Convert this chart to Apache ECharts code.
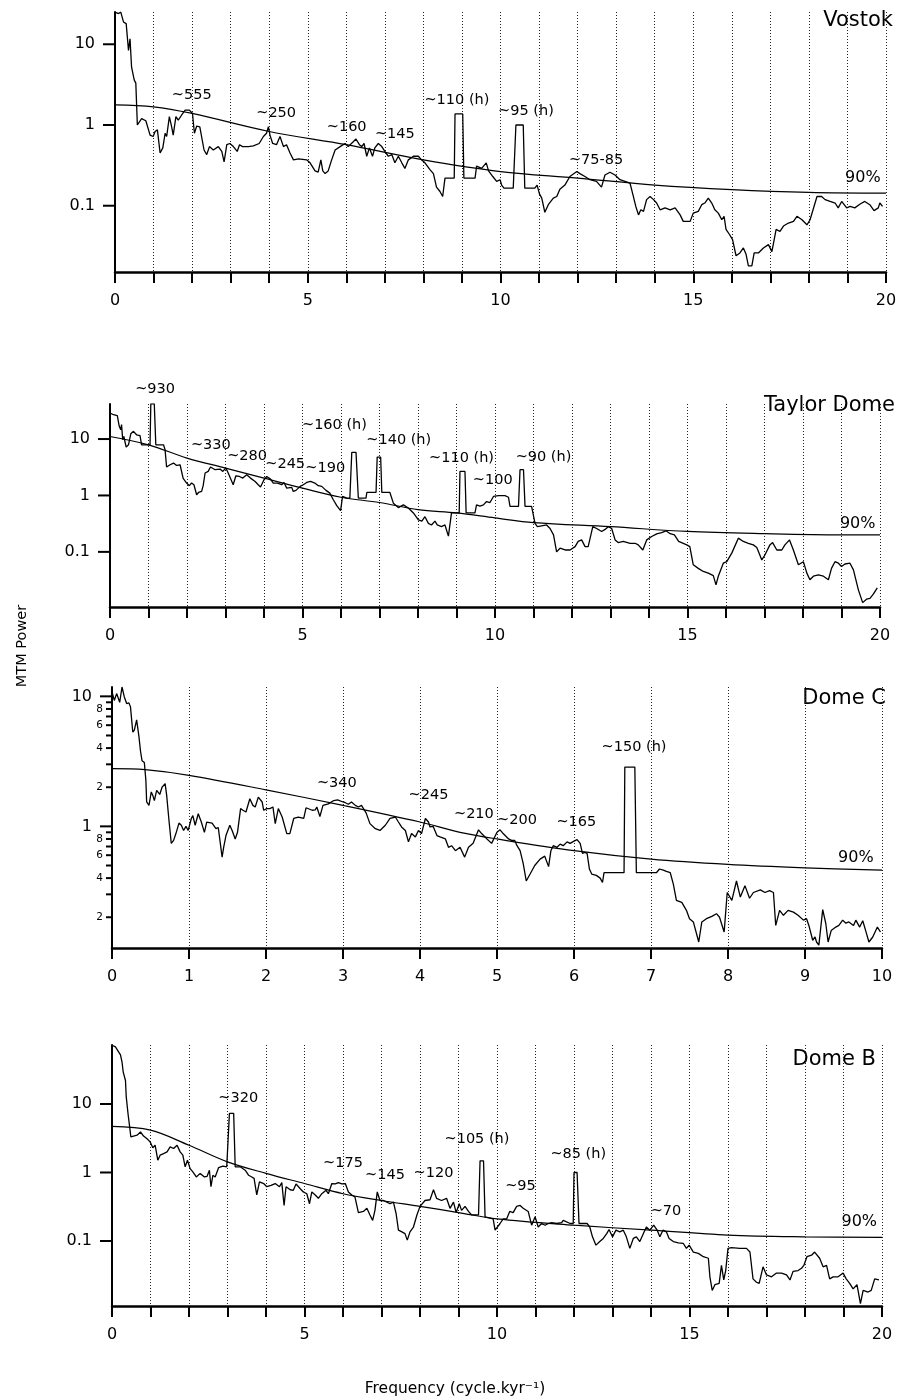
<!DOCTYPE html>
<html><head><meta charset="utf-8">
<script src="https://cdn.jsdelivr.net/npm/echarts@6/dist/echarts.min.js"></script>
<style>html,body{margin:0;padding:0;background:#fff}#c{width:911px;height:1400px}</style>
</head><body><div id="c"></div>
<script>
// ---------------- DATA ----------------
// Vostok
const vostokF = [0,0.09,0.15,0.22,0.29,0.35,0.39,0.43,0.50,0.54,0.58,0.63,0.69,0.80,0.91,0.99,1.04,1.10,1.17,1.24,1.30,1.34,1.41,1.47,1.51,1.58,1.64,1.73,1.82,1.93,2.01,2.06,2.12,2.20,2.25,2.31,2.38,2.45,2.55,2.68,2.77,2.83,2.90,2.98,3.07,3.17,3.23,3.31,3.46,3.59,3.74,3.85,3.93,3.98,4.02,4.09,4.19,4.28,4.37,4.45,4.54,4.63,4.76,4.97,5.06,5.19,5.27,5.34,5.39,5.45,5.53,5.62,5.71,5.84,5.97,6.05,6.18,6.25,6.34,6.40,6.46,6.53,6.60,6.68,6.74,6.83,6.92,7.00,7.09,7.18,7.26,7.35,7.44,7.52,7.61,7.74,7.87,7.95,8.04,8.17,8.26,8.34,8.43,8.50,8.56,8.80,8.82,9.02,9.05,9.34,9.38,9.51,9.63,9.69,9.80,9.90,9.99,10.03,10.09,10.33,10.40,10.59,10.63,10.89,10.95,11.01,11.07,11.15,11.24,11.37,11.46,11.54,11.67,11.80,11.98,12.06,12.19,12.32,12.49,12.62,12.71,12.84,12.97,13.10,13.36,13.43,13.51,13.58,13.64,13.71,13.79,13.88,13.97,14.05,14.14,14.27,14.40,14.53,14.66,14.74,14.92,15.0,15.13,15.22,15.30,15.39,15.48,15.56,15.65,15.74,15.80,15.85,15.94,16.02,16.11,16.21,16.30,16.37,16.43,16.52,16.58,16.69,16.82,16.95,17.04,17.15,17.25,17.34,17.47,17.60,17.69,17.82,17.95,18.03,18.21,18.33,18.42,18.55,18.68,18.76,18.85,18.98,19.07,19.19,19.33,19.45,19.58,19.69,19.80,19.84,19.91];
const vostokP = [25,24,25,18.9,18,8.4,11.7,5.2,3.6,3.3,1.0,0.95,1.2,1.13,0.75,0.72,0.83,0.87,0.45,0.52,0.79,0.72,1.27,0.95,0.75,1.27,1.15,1.33,1.53,1.53,1.39,0.79,0.97,0.95,0.93,0.49,0.43,0.54,0.49,0.54,0.47,0.35,0.57,0.59,0.54,0.47,0.57,0.54,0.54,0.55,0.59,0.72,0.79,0.95,0.75,0.59,0.57,0.72,0.54,0.57,0.45,0.37,0.38,0.37,0.34,0.27,0.26,0.37,0.27,0.25,0.27,0.37,0.49,0.54,0.59,0.54,0.62,0.67,0.57,0.54,0.59,0.41,0.52,0.41,0.52,0.59,0.54,0.47,0.41,0.43,0.34,0.41,0.34,0.29,0.37,0.41,0.41,0.37,0.34,0.28,0.25,0.17,0.15,0.13,0.22,0.22,1.37,1.37,0.22,0.22,0.31,0.29,0.34,0.27,0.23,0.20,0.21,0.18,0.165,0.165,1.0,1.0,0.165,0.165,0.18,0.14,0.124,0.083,0.103,0.124,0.13,0.16,0.18,0.23,0.265,0.25,0.23,0.21,0.2,0.17,0.24,0.26,0.24,0.21,0.19,0.14,0.098,0.077,0.089,0.085,0.119,0.13,0.119,0.108,0.089,0.094,0.089,0.094,0.077,0.064,0.064,0.081,0.085,0.103,0.108,0.124,0.108,0.089,0.081,0.067,0.074,0.051,0.044,0.038,0.024,0.026,0.030,0.025,0.018,0.018,0.026,0.026,0.030,0.033,0.027,0.051,0.048,0.056,0.061,0.064,0.074,0.067,0.058,0.067,0.13,0.13,0.119,0.113,0.108,0.094,0.113,0.094,0.098,0.094,0.105,0.113,0.103,0.087,0.094,0.108,0.098];
const vostokSigF = [0,1,2,4,6,8,10,12,14,16,18,20];
const vostokSigP = [1.77,1.68,1.39,0.83,0.57,0.37,0.265,0.22,0.18,0.158,0.146,0.143];
const vostokAnnL = ['~555','~250','~160','~145','~110 (h)','~95 (h)','~75-85','90%'];
const vostokAnnF = [1.99,4.18,6.01,7.26,8.87,10.66,12.48,19.40];
const vostokAnnP = [2.35,1.41,0.94,0.77,2.04,1.50,0.37,0.224];

// Taylor Dome
const taylorF = [0,0.09,0.19,0.24,0.28,0.30,0.33,0.36,0.42,0.48,0.54,0.61,0.69,0.78,0.82,1.04,1.06,1.15,1.19,1.39,1.43,1.47,1.56,1.65,1.73,1.82,1.90,1.99,2.06,2.12,2.18,2.25,2.30,2.38,2.42,2.47,2.55,2.61,2.73,2.86,2.93,3.01,3.07,3.12,3.20,3.27,3.36,3.45,3.55,3.65,3.77,3.85,3.91,4.0,4.07,4.17,4.24,4.35,4.46,4.52,4.59,4.72,4.76,4.83,4.94,5.02,5.11,5.21,5.32,5.41,5.50,5.61,5.71,5.80,5.89,5.99,6.04,6.15,6.23,6.28,6.39,6.45,6.65,6.67,6.91,6.94,7.03,7.06,7.27,7.36,7.49,7.62,7.75,7.88,8.01,8.10,8.18,8.27,8.35,8.44,8.50,8.61,8.70,8.79,8.87,9.07,9.09,9.22,9.25,9.48,9.52,9.61,9.70,9.78,9.87,9.96,10.09,10.26,10.35,10.39,10.61,10.65,10.74,10.78,10.95,11.04,11.10,11.21,11.34,11.43,11.52,11.60,11.69,11.82,11.95,12.08,12.16,12.25,12.34,12.42,12.54,12.64,12.77,12.86,12.94,13.03,13.12,13.20,13.33,13.51,13.64,13.72,13.84,13.94,14.07,14.20,14.33,14.44,14.55,14.66,14.77,14.98,15.06,15.15,15.28,15.41,15.54,15.67,15.74,15.80,15.93,16.02,16.15,16.32,16.45,16.58,16.71,16.80,16.93,17.01,17.14,17.21,17.32,17.45,17.53,17.65,17.75,17.88,18.01,18.10,18.18,18.27,18.40,18.53,18.66,18.74,18.83,18.92,19.00,19.09,19.22,19.31,19.44,19.55,19.65,19.74,19.83,19.93];
const taylorP = [29,27,26,16.8,14.6,18,9.7,11.1,7.2,7.9,12.4,13.7,11.9,11.5,7.9,7.9,42,42,7.9,7.9,6.5,3.2,3.5,3.75,3.4,3.5,2.0,1.66,1.49,1.66,1.55,1.03,1.13,1.18,1.49,2.5,2.67,3.2,2.86,2.94,2.67,3.06,2.5,2.67,1.55,2.23,2.17,2.03,2.33,2.03,1.77,1.55,1.41,1.9,2.17,1.95,1.66,1.66,1.55,1.7,1.35,1.39,1.18,1.23,1.45,1.55,1.7,1.77,1.66,1.49,1.45,1.23,1.1,0.84,0.66,0.54,0.96,0.9,0.9,5.8,5.8,0.9,0.9,1.13,1.13,4.8,4.8,1.13,1.13,0.73,0.61,0.68,0.6,0.49,0.37,0.35,0.42,0.32,0.30,0.35,0.30,0.28,0.30,0.19,0.49,0.49,2.67,2.67,0.49,0.49,0.68,0.65,0.68,0.78,0.75,0.96,0.99,0.99,0.93,0.64,0.64,2.86,2.86,0.64,0.64,0.32,0.28,0.29,0.30,0.26,0.20,0.10,0.116,0.108,0.108,0.124,0.153,0.163,0.124,0.124,0.28,0.26,0.23,0.25,0.28,0.26,0.163,0.146,0.153,0.142,0.142,0.133,0.108,0.163,0.187,0.209,0.22,0.236,0.21,0.2,0.153,0.133,0.124,0.059,0.051,0.045,0.042,0.038,0.026,0.037,0.063,0.067,0.095,0.175,0.153,0.142,0.133,0.12,0.072,0.088,0.133,0.146,0.108,0.108,0.133,0.163,0.108,0.059,0.067,0.042,0.032,0.037,0.039,0.037,0.032,0.051,0.067,0.063,0.055,0.061,0.063,0.048,0.021,0.0126,0.0145,0.015,0.018,0.023];
const taylorSigF = [0,1,2,3,4,5,6,7,8,9,10,11,13,15,17,19,20];
const taylorSigP = [11.1,7.9,4.6,3.06,2.03,1.35,0.93,0.75,0.56,0.49,0.40,0.33,0.28,0.23,0.21,0.20,0.20];
const taylorAnnL = ['~930','~330','~280','~245','~190','~160 (h)','~140 (h)','~110 (h)','~100','~90 (h)','90%'];
const taylorAnnF = [1.17,2.62,3.56,4.55,5.59,5.83,7.50,9.13,9.94,11.26,19.42];
const taylorAnnP = [77,7.9,4.9,3.65,3.06,17.5,9.7,4.6,1.85,4.7,0.32];

// Dome C
const domeCF = [0,0.03,0.06,0.10,0.13,0.16,0.19,0.22,0.24,0.27,0.29,0.32,0.35,0.37,0.39,0.42,0.44,0.45,0.48,0.51,0.53,0.55,0.58,0.62,0.65,0.69,0.71,0.74,0.77,0.80,0.83,0.87,0.90,0.93,0.96,0.99,1.03,1.05,1.08,1.12,1.16,1.20,1.23,1.30,1.35,1.38,1.43,1.45,1.48,1.53,1.56,1.60,1.63,1.67,1.70,1.74,1.79,1.83,1.86,1.90,1.95,1.97,2.01,2.05,2.09,2.12,2.16,2.21,2.27,2.31,2.36,2.42,2.49,2.52,2.60,2.64,2.66,2.70,2.74,2.81,2.88,2.93,3.00,3.03,3.07,3.11,3.16,3.20,3.24,3.30,3.35,3.42,3.48,3.55,3.61,3.68,3.72,3.76,3.81,3.85,3.89,3.94,3.98,4.02,4.07,4.11,4.13,4.17,4.22,4.26,4.33,4.37,4.41,4.46,4.48,4.52,4.58,4.63,4.69,4.76,4.80,4.87,4.93,5.0,5.04,5.08,5.15,5.19,5.23,5.26,5.30,5.34,5.38,5.43,5.49,5.56,5.62,5.67,5.70,5.73,5.78,5.82,5.86,5.91,5.95,6.0,6.04,6.08,6.11,6.14,6.17,6.20,6.23,6.29,6.34,6.37,6.39,6.65,6.66,6.79,6.81,7.07,7.11,7.16,7.20,7.25,7.29,7.33,7.40,7.46,7.50,7.55,7.62,7.66,7.72,7.79,7.85,7.89,7.95,7.99,8.05,8.11,8.16,8.22,8.28,8.33,8.42,8.48,8.54,8.59,8.62,8.67,8.72,8.78,8.85,8.91,8.98,9.02,9.05,9.10,9.13,9.15,9.18,9.23,9.27,9.30,9.34,9.40,9.44,9.49,9.53,9.57,9.63,9.66,9.71,9.75,9.80,9.83,9.88,9.94,9.98];
const domeCP = [10.8,9.3,10.5,9.0,11.8,9.9,8.8,8.9,8.3,5.3,5.5,6.6,4.9,3.8,3.2,3.1,2.26,1.54,1.45,1.84,1.73,1.58,1.89,1.76,2.0,2.13,1.73,1.11,0.74,0.78,0.88,1.06,1.02,0.93,1.0,0.93,1.15,1.21,1.02,1.25,1.08,0.9,1.08,1.06,0.96,0.98,0.58,0.69,0.85,1.02,0.93,0.80,0.9,1.37,1.33,1.29,1.63,1.45,1.41,1.68,1.54,1.33,1.37,1.37,1.41,1.05,1.37,1.18,0.88,0.88,1.15,1.18,1.15,1.39,1.33,1.34,1.41,1.19,1.45,1.49,1.58,1.6,1.54,1.52,1.48,1.54,1.45,1.41,1.45,1.27,1.05,0.96,0.93,1.02,1.15,1.18,1.08,0.99,0.93,0.76,0.88,0.83,0.93,0.88,1.15,1.08,0.99,1.0,0.85,0.83,0.80,0.69,0.71,0.65,0.63,0.69,0.58,0.69,0.74,0.94,0.88,0.80,0.74,0.9,0.94,0.88,0.80,0.78,0.78,0.71,0.65,0.52,0.38,0.43,0.50,0.56,0.59,0.49,0.65,0.71,0.69,0.73,0.71,0.76,0.74,0.77,0.79,0.74,0.62,0.63,0.62,0.47,0.43,0.42,0.40,0.37,0.44,0.44,2.86,2.86,0.44,0.44,0.47,0.46,0.45,0.44,0.36,0.27,0.26,0.226,0.195,0.184,0.129,0.184,0.195,0.203,0.213,0.2,0.154,0.31,0.27,0.38,0.286,0.35,0.28,0.31,0.325,0.31,0.32,0.31,0.173,0.226,0.207,0.226,0.219,0.207,0.19,0.195,0.173,0.133,0.141,0.129,0.122,0.229,0.179,0.129,0.158,0.168,0.173,0.19,0.18,0.184,0.173,0.19,0.168,0.188,0.149,0.129,0.141,0.168,0.154];
const domeCSigF = [0,0.43,1,2,3,4,4.52,5,6,7,8,9,10];
const domeCSigP = [2.78,2.73,2.47,1.91,1.45,1.08,0.90,0.80,0.65,0.56,0.51,0.48,0.46];
const domeCAnnL = ['~340','~245','~210','~200','~165','~150 (h)','90%'];
const domeCAnnF = [2.92,4.11,4.70,5.26,6.03,6.78,9.66];
const domeCAnnP = [2.13,1.73,1.24,1.11,1.08,4.08,0.57];

// Dome B
const domeBF = [0,0.09,0.15,0.22,0.26,0.29,0.32,0.35,0.37,0.42,0.46,0.49,0.56,0.65,0.74,0.82,0.91,0.99,1.06,1.12,1.19,1.25,1.34,1.43,1.51,1.60,1.69,1.77,1.84,1.90,1.96,2.03,2.10,2.19,2.29,2.40,2.47,2.53,2.57,2.62,2.68,2.77,2.88,2.98,3.03,3.05,3.16,3.20,3.33,3.46,3.55,3.63,3.69,3.76,3.83,3.94,4.02,4.13,4.24,4.35,4.41,4.47,4.52,4.63,4.71,4.78,4.89,4.97,5.06,5.13,5.19,5.28,5.36,5.45,5.56,5.62,5.71,5.80,5.88,5.97,6.06,6.14,6.23,6.31,6.40,6.53,6.62,6.70,6.77,6.83,6.89,6.96,7.05,7.14,7.22,7.31,7.38,7.44,7.53,7.61,7.67,7.74,7.83,7.92,8.0,8.13,8.26,8.35,8.43,8.56,8.69,8.78,8.87,8.94,9.02,9.08,9.17,9.26,9.34,9.52,9.56,9.65,9.69,9.90,9.95,9.99,10.08,10.16,10.25,10.33,10.42,10.51,10.60,10.68,10.81,10.90,10.99,11.07,11.16,11.25,11.33,11.42,11.55,11.68,11.72,11.90,11.98,12.0,12.08,12.13,12.34,12.41,12.48,12.57,12.67,12.76,12.85,12.91,13.0,13.09,13.19,13.28,13.36,13.45,13.54,13.62,13.71,13.80,13.88,13.97,14.07,14.16,14.23,14.31,14.40,14.47,14.58,14.71,14.84,14.92,14.99,15.10,15.23,15.36,15.49,15.53,15.59,15.66,15.70,15.77,15.83,15.89,15.94,16.0,16.09,16.31,16.48,16.57,16.65,16.74,16.81,16.91,17.0,17.13,17.26,17.39,17.52,17.61,17.69,17.82,17.91,17.97,18.05,18.17,18.25,18.38,18.47,18.56,18.64,18.73,18.86,18.99,19.07,19.16,19.25,19.35,19.44,19.51,19.64,19.72,19.81,19.92];
const domeBP = [72,68,60,52,41,29.5,31,22,12.7,6.9,4.6,3.3,3.4,3.5,3.9,3.4,3.1,2.8,2.3,2.5,1.51,1.79,1.89,2.0,2.37,2.24,2.5,2.0,1.79,1.21,1.51,1.14,1.02,0.86,0.97,0.86,0.88,1.08,0.62,0.91,0.86,1.18,1.24,1.21,1.23,7.3,7.3,1.21,1.21,1.08,0.91,0.86,0.82,0.47,0.73,0.69,0.62,0.65,0.69,0.62,0.71,0.33,0.62,0.56,0.55,0.68,0.58,0.52,0.49,0.35,0.52,0.47,0.42,0.49,0.55,0.49,0.69,0.68,0.71,0.68,0.69,0.52,0.47,0.44,0.26,0.27,0.30,0.24,0.20,0.28,0.52,0.39,0.39,0.37,0.35,0.37,0.25,0.144,0.136,0.128,0.103,0.136,0.16,0.24,0.32,0.39,0.40,0.56,0.42,0.39,0.42,0.30,0.37,0.26,0.35,0.28,0.32,0.27,0.24,0.24,1.48,1.48,0.225,0.21,0.144,0.136,0.18,0.21,0.21,0.27,0.26,0.32,0.33,0.30,0.27,0.17,0.225,0.16,0.18,0.17,0.18,0.185,0.18,0.185,0.2,0.18,0.18,1.0,1.0,0.18,0.18,0.16,0.115,0.087,0.098,0.109,0.128,0.147,0.115,0.144,0.136,0.144,0.115,0.078,0.109,0.115,0.098,0.128,0.16,0.144,0.17,0.144,0.115,0.144,0.136,0.109,0.098,0.094,0.092,0.078,0.087,0.069,0.066,0.059,0.056,0.030,0.019,0.023,0.022,0.024,0.044,0.027,0.037,0.078,0.080,0.078,0.078,0.069,0.028,0.025,0.024,0.042,0.032,0.030,0.034,0.034,0.032,0.027,0.036,0.037,0.040,0.044,0.059,0.062,0.069,0.056,0.042,0.044,0.028,0.030,0.030,0.034,0.028,0.024,0.020,0.023,0.0122,0.019,0.018,0.019,0.028,0.027];
const domeBSigF = [0,1,2,3,4,5,6,7,8,9,10,12,14,16,18,20];
const domeBSigP = [4.7,4.15,2.5,1.43,0.97,0.69,0.49,0.39,0.32,0.26,0.21,0.17,0.144,0.122,0.115,0.113];
const domeBAnnL = ['~320','~175','~145','~120','~105 (h)','~95','~85 (h)','~70','90%'];
const domeBAnnF = [3.28,6.0,7.09,8.35,9.48,10.61,12.11,14.39,19.41];
const domeBAnnP = [12.0,1.38,0.90,0.99,3.1,0.62,1.83,0.27,0.19];

// Y tick values / labels
const decadeTicks = [0.1, 1, 10];
const decadeTickLabels = ['0.1', '1', '10'];
const decadeTickKinds = ['major', 'major', 'major'];
const domeCTicks = [0.2,0.3,0.4,0.5,0.6,0.7,0.8,0.9,1,2,3,4,5,6,7,8,9,10];
const domeCTickLabels = ['2','','4','','6','','8','','1','2','','4','','6','','8','','10'];
const domeCTickKinds = ['minor','minor','minor','minor','minor','minor','minor','minor','major','minor','minor','minor','minor','minor','minor','minor','minor','major'];

// --------------- CHART ---------------
const FONT = 'DejaVu Sans';
const zip = (a, b) => a.map((v, i) => [v, b[i]]);

const panels = [
  { title: 'Vostok', titleX: 893, titleY: 21, f: vostokF, p: vostokP, sf: vostokSigF, sp: vostokSigP,
    al: vostokAnnL, af: vostokAnnF, ap: vostokAnnP, yMin: 0.0151, yMax: 25.1, xMax: 20,
    grid: { left: 115, width: 771, top: 12, height: 260 },
    ticks: decadeTicks, tickLabels: decadeTickLabels, tickKinds: decadeTickKinds },
  { title: 'Taylor Dome', titleX: 895, titleY: 406, f: taylorF, p: taylorP, sf: taylorSigF, sp: taylorSigP,
    al: taylorAnnL, af: taylorAnnF, ap: taylorAnnP, yMin: 0.01054, yMax: 41.8, xMax: 20,
    grid: { left: 110, width: 770, top: 404, height: 203 },
    ticks: decadeTicks, tickLabels: decadeTickLabels, tickKinds: decadeTickKinds },
  { title: 'Dome C', titleX: 886, titleY: 699, f: domeCF, p: domeCP, sf: domeCSigF, sp: domeCSigP,
    al: domeCAnnL, af: domeCAnnF, ap: domeCAnnP, yMin: 0.116, yMax: 11.8, xMax: 10,
    grid: { left: 112, width: 770, top: 687, height: 261 },
    ticks: domeCTicks, tickLabels: domeCTickLabels, tickKinds: domeCTickKinds },
  { title: 'Dome B', titleX: 876, titleY: 1060, f: domeBF, p: domeBP, sf: domeBSigF, sp: domeBSigP,
    al: domeBAnnL, af: domeBAnnF, ap: domeBAnnP, yMin: 0.01125, yMax: 72.6, xMax: 20,
    grid: { left: 112, width: 770, top: 1045, height: 261 },
    ticks: decadeTicks, tickLabels: decadeTickLabels, tickKinds: decadeTickKinds }
];

const dotted = { color: '#222', width: 1, type: [1, 2] };
const grids = [], xAxes = [], yAxes = [], series = [], graphics = [];

panels.forEach((pn, i) => {
  grids.push(Object.assign({ containLabel: false }, pn.grid));
  const is20 = pn.xMax === 20;
  xAxes.push({
    type: 'value', gridIndex: i, min: 0, max: pn.xMax, interval: is20 ? 5 : 1,
    axisLine: { show: true, onZero: false, lineStyle: { color: '#000', width: 2.5 } },
    axisTick: { show: true, length: 11, lineStyle: { color: '#000', width: 2 } },
    minorTick: { show: is20, splitNumber: 5, length: 11, lineStyle: { color: '#000', width: 2 } },
    axisLabel: { color: '#000', fontFamily: FONT, fontSize: 16, margin: 21 },
    splitLine: { show: true, lineStyle: dotted },
    minorSplitLine: { show: is20, lineStyle: dotted }
  });
  yAxes.push({
    type: 'log', logBase: 10, gridIndex: i, min: pn.yMin, max: pn.yMax,
    axisLine: { show: true, onZero: false, lineStyle: { color: '#000', width: 2 } },
    axisTick: { show: false }, axisLabel: { show: false }, splitLine: { show: false }
  });
  // spectrum
  series.push({
    type: 'line', xAxisIndex: i, yAxisIndex: i, data: zip(pn.f, pn.p),
    symbol: 'none', showSymbol: false, clip: true, silent: true,
    lineStyle: { color: '#000', width: 1.3 }, z: 3
  });
  // 90% confidence
  series.push({
    type: 'line', xAxisIndex: i, yAxisIndex: i, data: zip(pn.sf, pn.sp),
    symbol: 'none', showSymbol: false, smooth: 0.35, clip: true, silent: true,
    lineStyle: { color: '#000', width: 1.2 }, z: 3
  });
  // annotations, placed through the axes' scales
  const al = pn.al;
  series.push({
    type: 'custom', xAxisIndex: i, yAxisIndex: i, silent: true, clip: false, z: 5,
    data: al.map((l, k) => [pn.af[k], pn.ap[k], k]),
    encode: { x: 0, y: 1 },
    renderItem: (params, api) => {
      const k = api.value(2);
      const pt = api.coord([api.value(0), api.value(1)]);
      const big = al[k] === '90%';
      return { type: 'text', x: pt[0], y: pt[1],
        style: { text: al[k], fill: '#000', fontFamily: FONT, fontSize: big ? 16 : 14.5,
          align: 'center', verticalAlign: 'middle' } };
    }
  });
  // y ticks + labels drawn through the log scale
  const tv = pn.ticks, tl = pn.tickLabels, tk = pn.tickKinds;
  series.push({
    type: 'custom', xAxisIndex: i, yAxisIndex: i, silent: true, clip: false, z: 6,
    data: tv.map((v, k) => [0, v, k]),
    encode: { x: 0, y: 1 },
    renderItem: (params, api) => {
      const k = api.value(2);
      const pt = api.coord([api.value(0), api.value(1)]);
      const major = tk[k] === 'major';
      const len = major ? 12 : 6;
      const ch = [{ type: 'line', shape: { x1: pt[0] - len, y1: pt[1], x2: pt[0], y2: pt[1] },
        style: { stroke: '#000', lineWidth: 2 } }];
      if (tl[k]) {
        ch.push({ type: 'text', x: pt[0] - len - (major ? 8 : 3), y: pt[1],
          style: { text: tl[k], fill: '#000', fontFamily: FONT,
            fontSize: major ? 16 : 10.5, align: 'right', verticalAlign: 'middle' } });
      }
      return { type: 'group', children: ch };
    }
  });
  graphics.push({ type: 'text', x: pn.titleX, y: pn.titleY,
    style: { text: pn.title, fill: '#000', fontFamily: FONT, fontSize: 21, align: 'right', verticalAlign: 'middle' } });
});

graphics.push({ type: 'text', x: 22, y: 646, rotation: Math.PI / 2,
  style: { text: 'MTM Power', fill: '#000', fontFamily: FONT, fontSize: 14.5, align: 'center', verticalAlign: 'middle' } });
graphics.push({ type: 'text', x: 455, y: 1389,
  style: { text: 'Frequency (cycle.kyr⁻¹)', fill: '#000', fontFamily: FONT, fontSize: 15.5, align: 'center', verticalAlign: 'middle' } });

const chart = echarts.init(document.getElementById('c'), null, { renderer: 'canvas' });
chart.setOption({
  animation: false, backgroundColor: '#fff',
  grid: grids, xAxis: xAxes, yAxis: yAxes, series: series, graphic: graphics
});
</script></body></html>
